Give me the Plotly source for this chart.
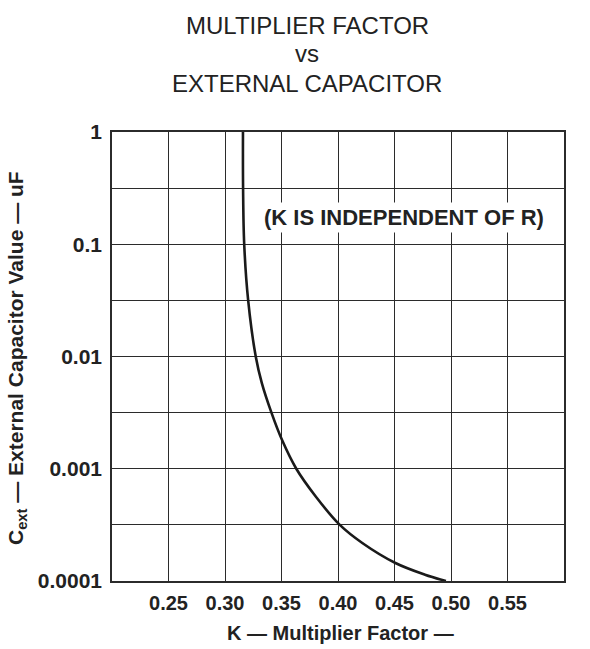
import plotly.graph_objects as go

# Data
k_values = [0.3159, 0.3160, 0.3170, 0.3205, 0.3272, 0.3326, 0.3411, 0.3504, 0.3631,
            0.3803, 0.4016, 0.4215, 0.4508, 0.4770, 0.4955]
c_values = [1.0, 0.316, 0.1, 0.0316, 0.01, 0.00579, 0.00316, 0.00181, 0.001,
            0.000566, 0.000316, 0.000218, 0.0001446, 0.0001138, 0.0001]

x_tickvals = [0.20, 0.25, 0.30, 0.35, 0.40, 0.45, 0.50, 0.55, 0.60]
x_ticktext = ["", "0.25", "0.30", "0.35", "0.40", "0.45", "0.50", "0.55", ""]
y_tickvals = [0.0001, 0.000316, 0.001, 0.00316, 0.01, 0.0316, 0.1, 0.316, 1]
y_ticktext = ["0.0001", "", "0.001", "", "0.01", "", "0.1", "", "1"]

title_lines = ["MULTIPLIER FACTOR", "vs", "EXTERNAL CAPACITOR"]
note_text = "(K IS INDEPENDENT OF R)"
x_title = "K \u2014 Multiplier Factor \u2014"
y_title = "C<sub>ext</sub> \u2014 External Capacitor Value \u2014 uF"

INK = "#222222"
FONT = "Liberation Sans, Arial, sans-serif"

W, H = 590, 649
L, R, T, B = 112, 26, 132, 68
PW, PH = W - L - R, H - T - B

def px_x(x):
    return (x - L) / PW

def px_y(y):
    return (H - B - y) / PH

fig = go.Figure()
fig.add_trace(go.Scatter(
    x=k_values, y=c_values, mode="lines",
    line=dict(color="#1a1a1a", width=2.6, shape="spline", smoothing=1.0),
    hoverinfo="skip", showlegend=False,
))

fig.update_layout(
    width=W, height=H,
    margin=dict(l=L, r=R, t=T, b=B, pad=0),
    paper_bgcolor="white", plot_bgcolor="white",
    font=dict(family=FONT, color=INK),
    showlegend=False,
)

fig.update_xaxes(
    range=[0.2, 0.6], tickmode="array", tickvals=x_tickvals, ticktext=x_ticktext,
    showgrid=True, gridcolor="#2b2b2b", gridwidth=1.4,
    showline=True, linecolor="#2b2b2b", linewidth=1.6, mirror=True,
    ticks="", zeroline=False,
    tickfont=dict(family=FONT, size=20, color=INK, weight="bold"),
    ticklabelstandoff=3,
)
fig.update_yaxes(
    type="log", range=[-4, 0], tickmode="array", tickvals=y_tickvals, ticktext=y_ticktext,
    showgrid=True, gridcolor="#2b2b2b", gridwidth=1.4,
    showline=True, linecolor="#2b2b2b", linewidth=1.6, mirror=True,
    ticks="", zeroline=False,
    tickfont=dict(family=FONT, size=21, color=INK, weight="bold"),
    ticklabelstandoff=4,
)

# Title lines
for text, cy in zip(title_lines, [25, 54, 84]):
    fig.add_annotation(
        text=text, xref="paper", yref="paper", x=px_x(307), y=px_y(cy),
        xanchor="center", yanchor="middle", showarrow=False,
        font=dict(family=FONT, size=24, color=INK),
    )

# Note inside the plot
fig.add_annotation(
    text=note_text, xref="paper", yref="paper", x=px_x(404), y=px_y(217),
    xanchor="center", yanchor="middle", showarrow=False,
    bgcolor="white", borderpad=2,
    font=dict(family=FONT, size=22, color=INK, weight="bold"),
)

# Axis titles
fig.add_annotation(
    text=x_title, xref="paper", yref="paper", x=px_x(340), y=px_y(633),
    xanchor="center", yanchor="middle", showarrow=False,
    font=dict(family=FONT, size=20, color=INK, weight="bold"),
)
fig.add_annotation(
    text=y_title, xref="paper", yref="paper", x=px_x(17), y=px_y(358),
    xanchor="center", yanchor="middle", showarrow=False, textangle=-90,
    font=dict(family=FONT, size=21, color=INK, weight="bold"),
)

fig.write_html("out.html")
